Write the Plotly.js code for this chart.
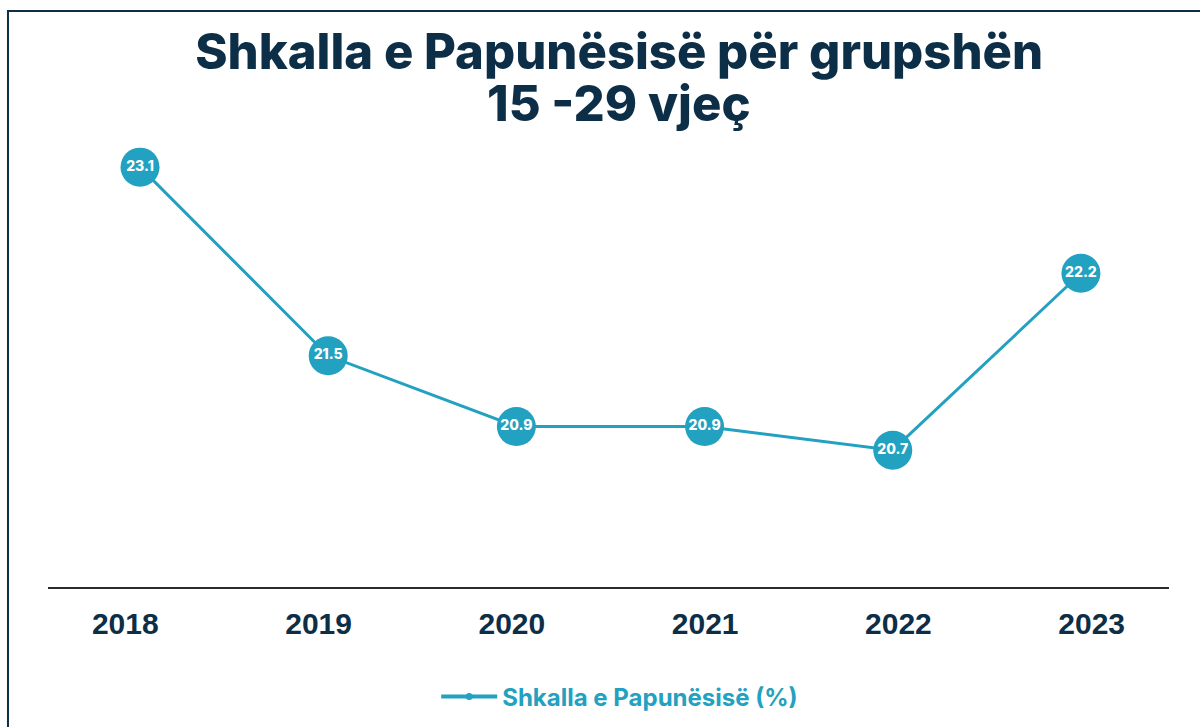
<!DOCTYPE html>
<html>
<head>
<meta charset="utf-8">
<script src="https://cdn.plot.ly/plotly-3.0.1.min.js"></script>
<style>
html,body{margin:0;padding:0;background:#fff;}
#chart{width:1200px;height:727px;}
</style>
</head>
<body>
<div id="chart"></div>
<script>
const years = ["2018", "2019", "2020", "2021", "2022", "2023"];
const rates = [23.1, 21.5, 20.9, 20.9, 20.7, 22.2];
const seriesName = "Shkalla e Papunësisë (%)";
const titleLine1 = "Shkalla e Papunësisë për grupshën";
const titleLine2 = "15 -29 vjeç";

const teal = "#22a1c0";
const navy = "#0c2e47";
const titleFont = {family: "Inter, 'Open Sans', sans-serif", size: 49, color: navy, weight: 800};

const traces = [
  {
    type: "scatter",
    mode: "lines+markers+text",
    x: years,
    y: rates,
    xaxis: "x2",
    yaxis: "y",
    text: rates.map(v => v.toFixed(1)),
    textposition: "middle center",
    textfont: {family: "Inter, 'Open Sans', sans-serif", size: 14, color: "#ffffff", weight: 800},
    line: {color: teal, width: 3},
    marker: {color: teal, size: 39},
    showlegend: false,
    hoverinfo: "x+y",
    cliponaxis: false
  },
  {
    type: "scatter",
    mode: "lines+markers",
    x: years,
    y: years.map(() => null),
    xaxis: "x",
    yaxis: "y",
    name: seriesName,
    line: {color: teal, width: 4},
    marker: {color: teal, size: 7},
    showlegend: true,
    hoverinfo: "skip"
  }
];

const layout = {
  width: 1200,
  height: 727,
  paper_bgcolor: "#ffffff",
  plot_bgcolor: "#ffffff",
  margin: {l: 48, r: 31, t: 140, b: 140, autoexpand: false},
  title: {
    text: titleLine1,
    font: titleFont,
    x: 0.516,
    xanchor: "center",
    xref: "container",
    y: 0.929,
    yanchor: "middle",
    yref: "container",
    automargin: false
  },
  annotations: [
    {
      text: titleLine2,
      font: titleFont,
      xref: "paper",
      yref: "paper",
      x: 0.509,
      y: 1.082,
      xanchor: "center",
      yanchor: "middle",
      showarrow: false
    }
  ],
  xaxis: {
    type: "category",
    categoryarray: years,
    range: [-0.4, 5.4],
    showline: true,
    linecolor: "#2b2b2b",
    linewidth: 2,
    showgrid: false,
    zeroline: false,
    ticks: "outside",
    ticklen: 9,
    tickcolor: "rgba(0,0,0,0)",
    tickfont: {family: "'Liberation Sans', Arial, sans-serif", size: 30, color: navy, weight: 700},
    fixedrange: true
  },
  xaxis2: {
    type: "category",
    categoryarray: years,
    overlaying: "x",
    range: [-0.489, 5.468],
    visible: false,
    fixedrange: true
  },
  yaxis: {
    range: [19.54, 23.33],
    showline: false,
    showgrid: false,
    zeroline: false,
    showticklabels: false,
    ticks: "",
    fixedrange: true
  },
  legend: {
    orientation: "h",
    x: 0.510,
    xanchor: "center",
    y: -0.246,
    yanchor: "middle",
    itemwidth: 56,
    font: {family: "Inter, 'Open Sans', sans-serif", size: 24, color: teal, weight: 700},
    bgcolor: "rgba(0,0,0,0)"
  },
  shapes: [
    {
      type: "rect",
      xref: "paper",
      yref: "paper",
      x0: -0.0357,
      x1: 1.2,
      y0: -0.5,
      y1: 1.2886,
      line: {color: navy, width: 2},
      fillcolor: "rgba(0,0,0,0)",
      layer: "below"
    }
  ]
};

Plotly.newPlot("chart", traces, layout, {displayModeBar: false});
</script>
</body>
</html>
